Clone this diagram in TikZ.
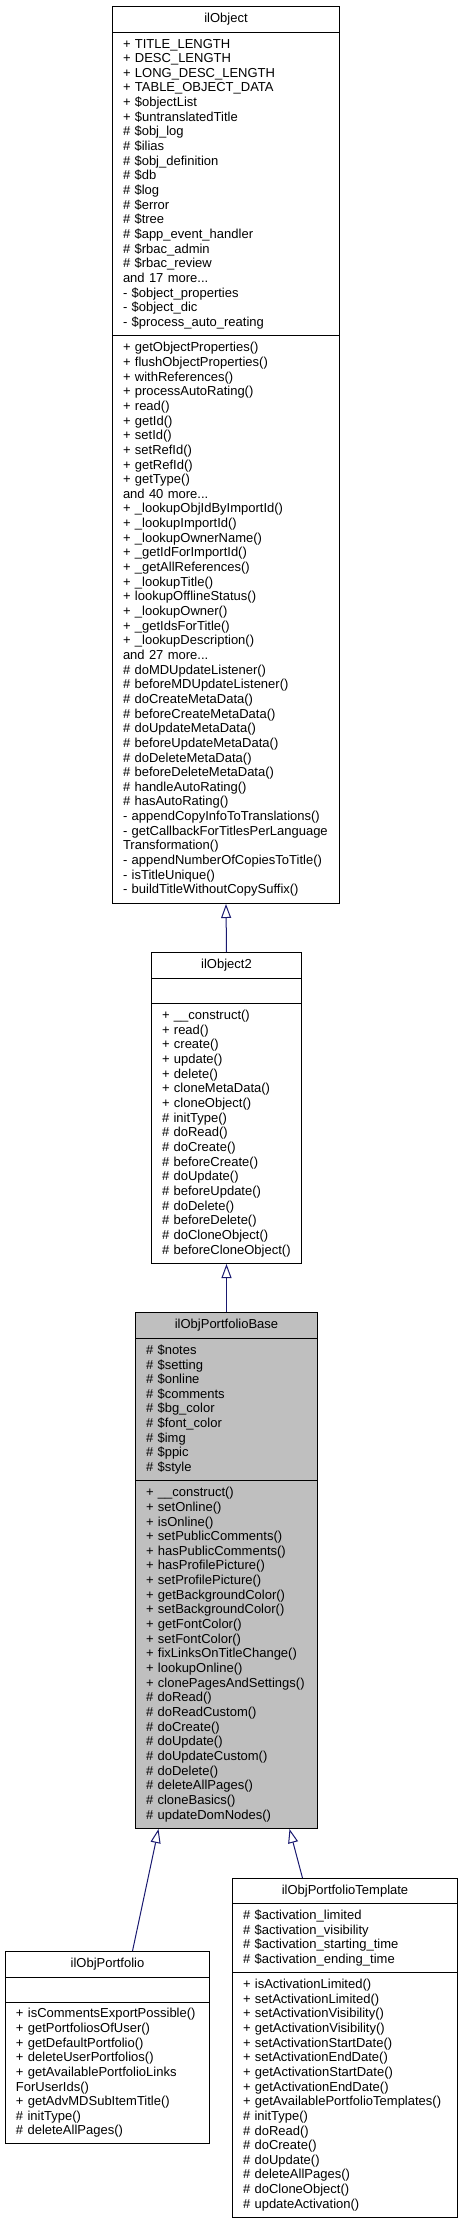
\documentclass[tikz,border=0pt]{standalone}
\usepackage{fontspec}
\setmainfont{Liberation Sans}
\usetikzlibrary{arrows.meta}
\definecolor{edgeblue}{HTML}{191970}
\definecolor{basegray}{HTML}{BFBFBF}
\newcommand\cfont{\fontsize{13}{14.65}\selectfont}
\begin{document}
\begin{tikzpicture}[x=1pt,y=-1pt,
  sec/.style={draw=black, line width=1pt, inner xsep=10.5pt, inner ysep=0pt,
    anchor=north west, align=left, font=\cfont},
  ttl/.style={draw=black, line width=1pt, inner xsep=10.5pt, inner ysep=0pt,
    anchor=north west, align=center, font=\cfont},
  inh/.style={draw=edgeblue, line width=1pt,
    -{Triangle[open, length=14pt, width=10pt]}}]
\useasboundingbox (0,0) rectangle (461,2224);

% ilObject
\node[ttl, text width=206pt, minimum height=26pt] (o-t) at (112,6) {ilObject};
\node[sec, text width=206pt, minimum height=303pt] (o-a) at (112,32) {%
+~TITLE\_LENGTH\\
+~DESC\_LENGTH\\
+~LONG\_DESC\_LENGTH\\
+~TABLE\_OBJECT\_DATA\\
+~\$objectList\\
+~\$untranslatedTitle\\
\#~\$obj\_log\\
\#~\$ilias\\
\#~\$obj\_definition\\
\#~\$db\\
\#~\$log\\
\#~\$error\\
\#~\$tree\\
\#~\$app\_event\_handler\\
\#~\$rbac\_admin\\
\#~\$rbac\_review\\
and~17~more...\\
-~\$object\_properties\\
-~\$object\_dic\\
-~\$process\_auto\_reating};
\node[sec, text width=206pt, minimum height=568pt] (o-m) at (112,335) {%
+~getObjectProperties()\\
+~flushObjectProperties()\\
+~withReferences()\\
+~processAutoRating()\\
+~read()\\
+~getId()\\
+~setId()\\
+~setRefId()\\
+~getRefId()\\
+~getType()\\
and~40~more...\\
+~\_lookupObjIdByImportId()\\
+~\_lookupImportId()\\
+~\_lookupOwnerName()\\
+~\_getIdForImportId()\\
+~\_getAllReferences()\\
+~\_lookupTitle()\\
+~lookupOfflineStatus()\\
+~\_lookupOwner()\\
+~\_getIdsForTitle()\\
+~\_lookupDescription()\\
and~27~more...\\
\#~doMDUpdateListener()\\
\#~beforeMDUpdateListener()\\
\#~doCreateMetaData()\\
\#~beforeCreateMetaData()\\
\#~doUpdateMetaData()\\
\#~beforeUpdateMetaData()\\
\#~doDeleteMetaData()\\
\#~beforeDeleteMetaData()\\
\#~handleAutoRating()\\
\#~hasAutoRating()\\
-~appendCopyInfoToTranslations()\\
-~getCallbackForTitlesPerLanguage\\
Transformation()\\
-~appendNumberOfCopiesToTitle()\\
-~isTitleUnique()\\
-~buildTitleWithoutCopySuffix()};

% ilObject2
\node[ttl, text width=129pt, minimum height=26pt] (o2-t) at (151,952) {ilObject2};
\node[sec, text width=129pt, minimum height=25pt] (o2-a) at (151,978) {};
\node[sec, text width=129pt, minimum height=260pt] (o2-m) at (151,1003) {%
+~\_\_construct()\\
+~read()\\
+~create()\\
+~update()\\
+~delete()\\
+~cloneMetaData()\\
+~cloneObject()\\
\#~initType()\\
\#~doRead()\\
\#~doCreate()\\
\#~beforeCreate()\\
\#~doUpdate()\\
\#~beforeUpdate()\\
\#~doDelete()\\
\#~beforeDelete()\\
\#~doCloneObject()\\
\#~beforeCloneObject()};

% ilObjPortfolioBase
\node[ttl, fill=basegray, text width=161pt, minimum height=26pt] (b-t) at (135,1312) {ilObjPortfolioBase};
\node[sec, fill=basegray, text width=161pt, minimum height=142pt] (b-a) at (135,1338) {%
\#~\$notes\\
\#~\$setting\\
\#~\$online\\
\#~\$comments\\
\#~\$bg\_color\\
\#~\$font\_color\\
\#~\$img\\
\#~\$ppic\\
\#~\$style};
\node[sec, fill=basegray, text width=161pt, minimum height=348pt] (b-m) at (135,1480) {%
+~\_\_construct()\\
+~setOnline()\\
+~isOnline()\\
+~setPublicComments()\\
+~hasPublicComments()\\
+~hasProfilePicture()\\
+~setProfilePicture()\\
+~getBackgroundColor()\\
+~setBackgroundColor()\\
+~getFontColor()\\
+~setFontColor()\\
+~fixLinksOnTitleChange()\\
+~lookupOnline()\\
+~clonePagesAndSettings()\\
\#~doRead()\\
\#~doReadCustom()\\
\#~doCreate()\\
\#~doUpdate()\\
\#~doUpdateCustom()\\
\#~doDelete()\\
\#~deleteAllPages()\\
\#~cloneBasics()\\
\#~updateDomNodes()};

% ilObjPortfolio
\node[ttl, text width=183pt, minimum height=26pt] (p-t) at (5,1951) {ilObjPortfolio};
\node[sec, text width=183pt, minimum height=25pt] (p-a) at (5,1977) {};
\node[sec, text width=183pt, minimum height=141pt] (p-m) at (5,2002) {%
+~isCommentsExportPossible()\\
+~getPortfoliosOfUser()\\
+~getDefaultPortfolio()\\
+~deleteUserPortfolios()\\
+~getAvailablePortfolioLinks\\
ForUserIds()\\
+~getAdvMDSubItemTitle()\\
\#~initType()\\
\#~deleteAllPages()};

% ilObjPortfolioTemplate
\node[ttl, text width=204pt, minimum height=25pt] (tp-t) at (232,1878) {ilObjPortfolioTemplate};
\node[sec, text width=204pt, minimum height=69pt] (tp-a) at (232,1903) {%
\#~\$activation\_limited\\
\#~\$activation\_visibility\\
\#~\$activation\_starting\_time\\
\#~\$activation\_ending\_time};
\node[sec, text width=204pt, minimum height=245pt] (tp-m) at (232,1972) {%
+~isActivationLimited()\\
+~setActivationLimited()\\
+~setActivationVisibility()\\
+~getActivationVisibility()\\
+~setActivationStartDate()\\
+~setActivationEndDate()\\
+~getActivationStartDate()\\
+~getActivationEndDate()\\
+~getAvailablePortfolioTemplates()\\
\#~initType()\\
\#~doRead()\\
\#~doCreate()\\
\#~doUpdate()\\
\#~deleteAllPages()\\
\#~doCloneObject()\\
\#~updateActivation()};

% inheritance
\draw[inh] (o2-t.north) -- (o-m.south);
\draw[inh] (b-t.north) -- (o2-m.south);
\draw[inh] ([xshift=25pt]p-t.north) -- ([xshift=-68pt]b-m.south);
\draw[inh] ([xshift=-42.5pt]tp-t.north) -- ([xshift=63pt]b-m.south);
\end{tikzpicture}
\end{document}
